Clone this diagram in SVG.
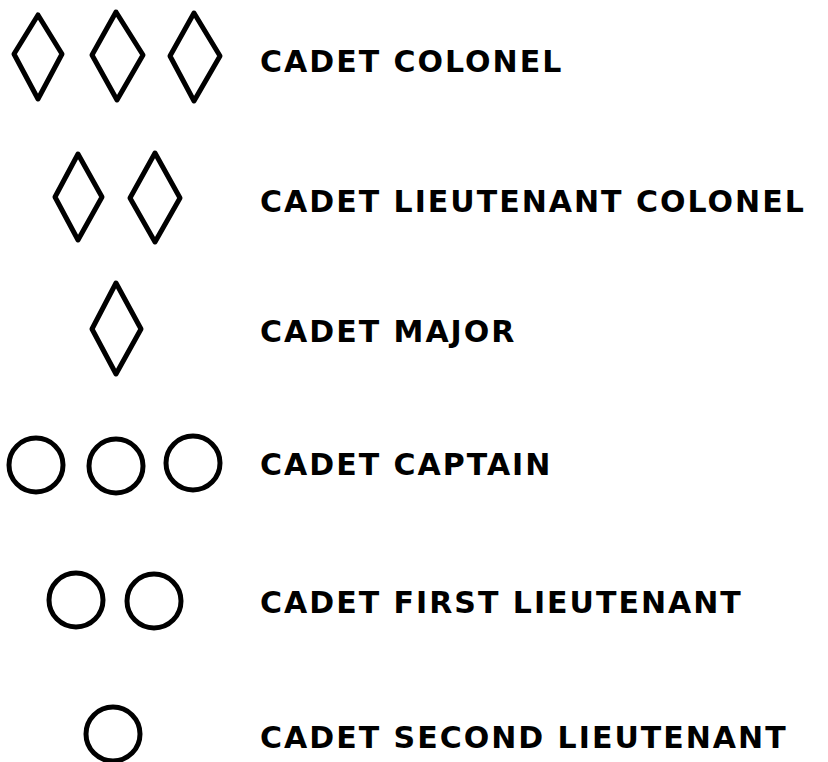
<svg xmlns="http://www.w3.org/2000/svg" width="828" height="762" viewBox="0 0 828 762">
<style>
.s{fill:none;stroke:#000;stroke-width:5;stroke-linejoin:round}
.t{font-family:"DejaVu Sans","Liberation Sans",sans-serif;font-weight:bold;font-size:30px;letter-spacing:2px;fill:#000}
</style>
<rect width="828" height="762" fill="#fff"/>
<g id="colonel">
<polygon class="s" points="38,15 62,54 38,99 14,54"/>
<polygon class="s" points="116,12 143,55 117,100 92,55"/>
<polygon class="s" points="194,13 220,56 194,101 170,56"/>
<text class="t" x="260" y="72">CADET COLONEL</text>
</g>
<g id="lt-colonel">
<polygon class="s" points="78,154 102,197 78,240 55,197"/>
<polygon class="s" points="155,153 180,198 155,242 130,198"/>
<text class="t" x="260" y="212">CADET LIEUTENANT COLONEL</text>
</g>
<g id="major">
<polygon class="s" points="116,283 141,329 116,374 92,329"/>
<text class="t" x="260" y="342">CADET MAJOR</text>
</g>
<g id="captain">
<circle class="s" cx="36" cy="465" r="27"/>
<circle class="s" cx="116" cy="466" r="27"/>
<circle class="s" cx="193" cy="463" r="27"/>
<text class="t" x="260" y="475">CADET CAPTAIN</text>
</g>
<g id="first-lt">
<circle class="s" cx="76" cy="600" r="27"/>
<circle class="s" cx="154" cy="601" r="27"/>
<text class="t" x="260" y="613">CADET FIRST LIEUTENANT</text>
</g>
<g id="second-lt">
<circle class="s" cx="113" cy="734" r="27"/>
<text class="t" x="260" y="748">CADET SECOND LIEUTENANT</text>
</g>
<g id="connectors"/>
</svg>
